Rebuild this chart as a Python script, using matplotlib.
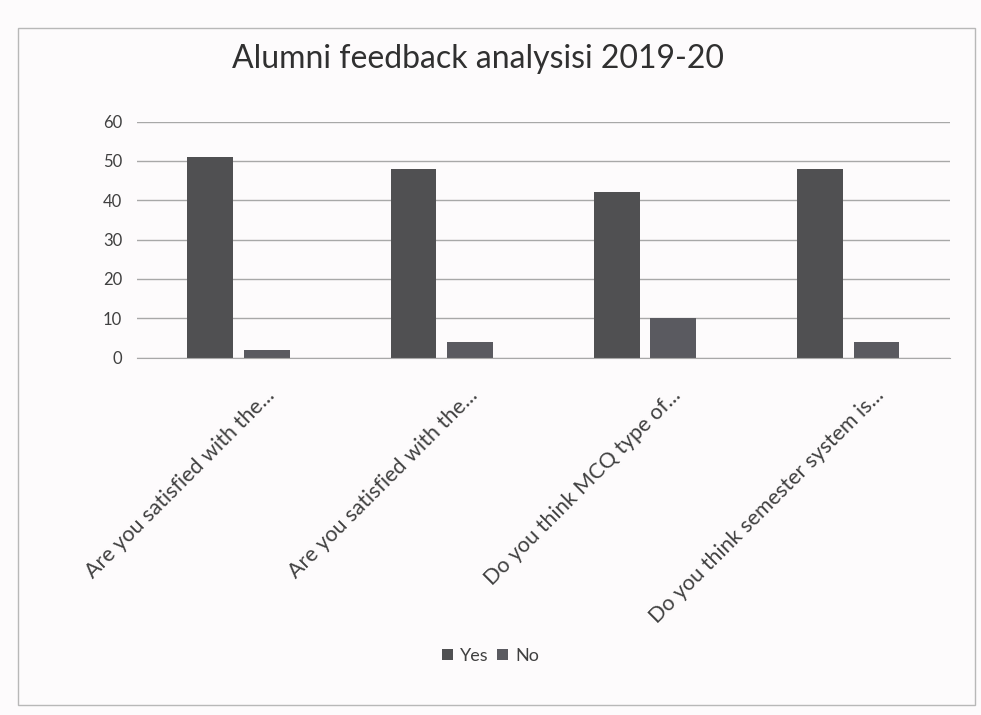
import matplotlib.pyplot as plt
import matplotlib.transforms as mtransforms
import numpy as np
from matplotlib.patches import Rectangle

plt.rcParams['font.family'] = ['Lato', 'DejaVu Sans']

categories = ["Are you satisfied with the...",
              "Are you satisfied with the...",
              "Do you think MCQ type of...",
              "Do you think semester system is..."]
yes_values = [51, 48, 42, 48]
no_values = [2, 4, 10, 4]
series_names = ["Yes", "No"]
COLORS = ["#505052", "#5a5a60"]

fig = plt.figure(figsize=(9.81, 7.15), dpi=100, facecolor="#fdfbfc")
ax = fig.add_axes([0.14, 0.5, 0.828, 0.33])
ax.set_facecolor("#fdfbfc")

x = np.arange(len(categories))
width = 0.226
ax.bar(x - 0.14, yes_values, width, color=COLORS[0], label=series_names[0])
ax.bar(x + 0.14, no_values, width, color=COLORS[1], label=series_names[1])

ax.set_xlim(-0.5, len(categories) - 0.5)
ax.set_ylim(0, 60)
ax.set_yticks(range(0, 61, 10))
ax.yaxis.grid(True, color="#a8a8a8", linewidth=1.0)
ax.set_axisbelow(True)
for s in ["top", "right", "left"]:
    ax.spines[s].set_visible(False)
ax.spines["bottom"].set_color("#a8a8a8")
ax.tick_params(axis="y", length=0, pad=11, labelsize=12, labelcolor="#404040")
ax.tick_params(axis="x", length=0, pad=25, labelsize=15.5, labelcolor="#404040")
ax.set_xticks(x)
ax.set_xticklabels(categories, rotation=45, ha="right", va="center",
                   rotation_mode="anchor")
# labels sit a bit right of the category centre in the original
shift = mtransforms.ScaledTranslation(0.33, 0, fig.dpi_scale_trans)
for lbl in ax.get_xticklabels():
    lbl.set_transform(lbl.get_transform() + shift)

fig.text(0.487, 0.918, "Alumni feedback analysisi 2019-20", ha="center", va="center",
         fontsize=23, color="#303030")

fig.legend(loc="center", bbox_to_anchor=(0.5, 0.083), ncol=2, frameon=False,
           fontsize=13, handlelength=0.6, handleheight=0.6, handletextpad=0.4,
           columnspacing=0.5, labelcolor="#404040")

fig.patches.append(Rectangle((0.018, 0.014), 0.976, 0.947, transform=fig.transFigure,
                             fill=False, edgecolor="#b8b8b8", linewidth=1.0))

plt.savefig("out.png", dpi=100, facecolor=fig.get_facecolor())
